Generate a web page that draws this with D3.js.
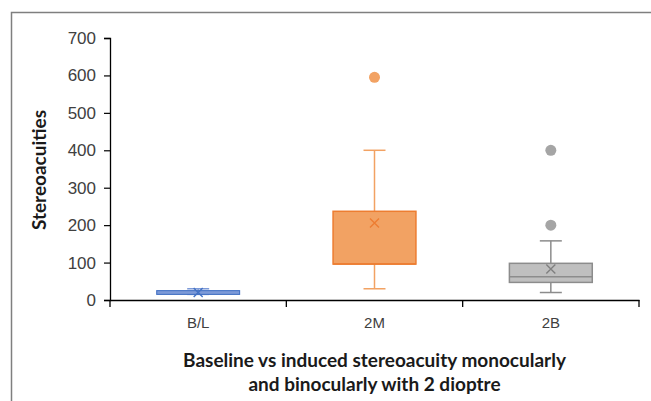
<!DOCTYPE html>
<html>
<head>
<meta charset="utf-8">
<script src="https://cdn.jsdelivr.net/npm/d3@7"></script>
<style>
  body { margin: 0; background: #fff; }
  svg { display: block; font-family: Lato, "Open Sans", sans-serif; }
</style>
</head>
<body>
<svg id="chart" width="651" height="401"></svg>
<script>
// box plot values
var categories = ["B/L", "2M", "2B"];
var whiskerLow  = [15, 30, 20];
var q1          = [15, 96, 47];
var median      = [20, 96, 62];
var q3          = [25, 237, 98];
var whiskerHigh = [30, 400, 158];
var means       = [20, 206, 83];
var outliers    = [[], [595], [200, 400]];
var yTicks = [0, 100, 200, 300, 400, 500, 600, 700];

var fills   = ["#7d9ad8", "#f2a263", "#bfbfbf"];
var strokes = ["#4472c4", "#ed7d31", "#8c8c8c"];
var dotFill = ["#4472c4", "#f2a263", "#a5a5a5"];
var strokeW = [1.1, 1.5, 1.5];

var svg = d3.select("svg#chart");

//Use the margin convention practice
var margin = {top: 38, left: 110, right: 12, bottom: 101};
var width = 651 - margin.left - margin.right,
    height = 401 - margin.top - margin.bottom;

// frame lines (left and top only, chart is cropped)
svg.append("path")
  .attr("d", "M11.5,401V12.5H651")
  .attr("fill", "none")
  .attr("stroke", "#7f7f7f")
  .attr("stroke-width", 1.5);

var g = svg.append("g")
  .attr("transform", "translate(" + margin.left + "," + margin.top + ")");

var xScale = d3.scaleBand().domain(categories).range([0, width]);
var yScale = d3.scaleLinear().domain([0, 700]).range([height, 0]);

// y axis
var yAxis = g.append("g")
  .call(d3.axisLeft(yScale).tickValues(yTicks).tickSize(6).tickPadding(8));
yAxis.select(".domain").attr("stroke", "#000").attr("stroke-width", 1.3);
yAxis.selectAll(".tick line").attr("stroke", "#000").attr("stroke-width", 1.2);
yAxis.selectAll(".tick text").attr("font-size", 17).attr("fill", "#404040");

// x axis with ticks at category boundaries
var xAxis = g.append("g")
  .attr("transform", "translate(0," + height + ")")
  .call(d3.axisBottom(xScale).tickSize(0).tickPadding(17));
xAxis.select(".domain").attr("stroke", "#000").attr("stroke-width", 1.6);
xAxis.selectAll(".tick text").attr("font-size", 15).attr("fill", "#404040");
xAxis.selectAll("line.sep")
  .data(d3.range(categories.length + 1))
  .enter().append("line")
  .attr("class", "sep")
  .attr("x1", function(i) { return i * xScale.step(); })
  .attr("x2", function(i) { return i * xScale.step(); })
  .attr("y1", 0).attr("y2", 7)
  .attr("stroke", "#000").attr("stroke-width", 1.3);

var boxW = xScale.bandwidth() * 0.47;
var capW = 22;

var boxes = g.selectAll("g.box")
  .data(categories)
  .enter().append("g")
  .attr("class", "box")
  .attr("transform", function(d) { return "translate(" + (xScale(d) + xScale.bandwidth() / 2) + ",0)"; });

// whiskers
boxes.append("line")
  .attr("x1", 0).attr("x2", 0)
  .attr("y1", function(d, i) { return yScale(whiskerHigh[i]); })
  .attr("y2", function(d, i) { return yScale(q3[i]); })
  .attr("stroke", function(d, i) { return i == 2 ? strokes[i] : fills[i]; }).attr("stroke-width", 1.5);
boxes.append("line")
  .attr("x1", 0).attr("x2", 0)
  .attr("y1", function(d, i) { return yScale(whiskerLow[i]); })
  .attr("y2", function(d, i) { return yScale(q1[i]); })
  .attr("stroke", function(d, i) { return i == 2 ? strokes[i] : fills[i]; }).attr("stroke-width", 1.5);
[whiskerHigh, whiskerLow].forEach(function(arr) {
  boxes.append("line")
    .attr("x1", -capW / 2).attr("x2", capW / 2)
    .attr("y1", function(d, i) { return yScale(arr[i]); })
    .attr("y2", function(d, i) { return yScale(arr[i]); })
    .attr("stroke", function(d, i) { return i == 2 ? strokes[i] : fills[i]; }).attr("stroke-width", 1.5);
});

// boxes
boxes.append("rect")
  .attr("x", -boxW / 2).attr("width", boxW)
  .attr("y", function(d, i) { return yScale(q3[i]); })
  .attr("height", function(d, i) { return yScale(q1[i]) - yScale(q3[i]); })
  .attr("fill", function(d, i) { return fills[i]; })
  .attr("stroke", function(d, i) { return strokes[i]; })
  .attr("stroke-width", function(d, i) { return strokeW[i]; });

// median lines
boxes.append("line")
  .attr("x1", -boxW / 2).attr("x2", boxW / 2)
  .attr("y1", function(d, i) { return yScale(median[i]); })
  .attr("y2", function(d, i) { return yScale(median[i]); })
  .attr("stroke", function(d, i) { return i == 0 ? fills[i] : strokes[i]; })
  .attr("stroke-width", function(d, i) { return i == 0 ? 0 : 1.5; });

// mean markers (x)
boxes.append("path")
  .attr("d", function(d, i) {
    var y = yScale(means[i]), s = 4.5;
    return "M" + (-s) + "," + (y - s) + "L" + s + "," + (y + s) + "M" + s + "," + (y - s) + "L" + (-s) + "," + (y + s);
  })
  .attr("stroke", function(d, i) { return i == 2 ? "#808080" : strokes[i]; })
  .attr("stroke-width", 1.4)
  .attr("fill", "none");

// outliers
boxes.each(function(d, i) {
  d3.select(this).selectAll("circle")
    .data(outliers[i])
    .enter().append("circle")
    .attr("cx", 0)
    .attr("cy", function(v) { return yScale(v); })
    .attr("r", 5.5)
    .attr("fill", dotFill[i]);
});

// y title
svg.append("text")
  .attr("transform", "translate(46,170) rotate(-90)")
  .attr("text-anchor", "middle")
  .attr("font-size", 19)
  .attr("font-weight", "bold")
  .attr("fill", "#1a1a1a")
  .text("Stereoacuities");

// x title
var cx = margin.left + width / 2;
svg.append("text")
  .attr("x", cx).attr("y", 367)
  .attr("text-anchor", "middle")
  .attr("font-size", 19)
  .attr("font-weight", "bold")
  .attr("fill", "#1a1a1a")
  .text("Baseline vs induced stereoacuity monocularly");
svg.append("text")
  .attr("x", cx).attr("y", 391)
  .attr("text-anchor", "middle")
  .attr("font-size", 19)
  .attr("font-weight", "bold")
  .attr("fill", "#1a1a1a")
  .text("and binocularly with 2 dioptre");
</script>
</body>
</html>
